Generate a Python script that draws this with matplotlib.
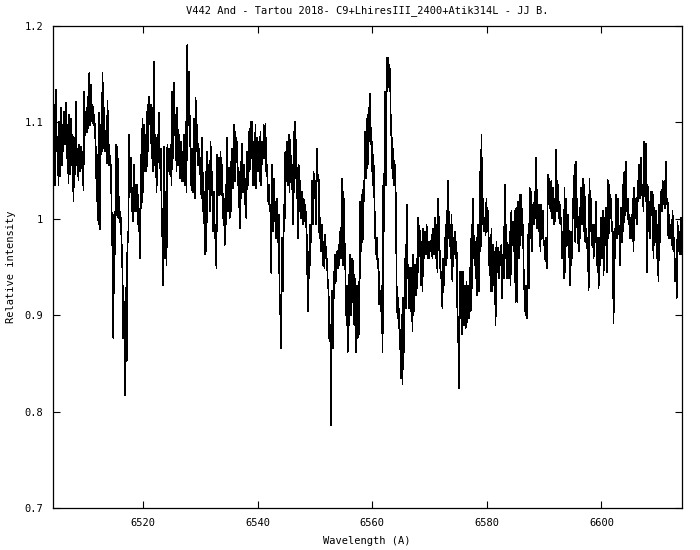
import numpy as np
import matplotlib
matplotlib.use("Agg")
import matplotlib.pyplot as plt

# wavelength calibration of the spectrum (linear dispersion)
lam_start = 6504.24
lam_end = 6614.0

# relative intensity in short stretches (max, min pairs)
flux_01 = [1.077, 1.025, 1.118, 1.035, 1.134, 1.070, 1.084, 1.035, 1.101, 1.044,
           1.115, 1.056, 1.097, 1.070, 1.111, 1.077, 1.120, 1.063, 1.097, 1.037,
           1.108, 1.046, 1.104, 1.056, 1.087, 1.018, 1.084, 1.046, 1.121, 1.056,
           1.073, 1.040, 1.077, 1.049, 1.075, 1.053, 1.070, 1.030, 1.132, 1.087,
           1.104, 1.090, 1.127, 1.094, 1.151, 1.097, 1.139, 1.101, 1.118, 1.097,
           1.108, 1.090, 1.068, 1.018, 1.066, 0.994, 1.110, 0.989, 1.097, 1.070,
           1.151, 1.073, 1.115, 1.070, 1.084, 1.058]
flux_02 = [1.122, 1.056, 1.077, 1.056, 1.056, 1.004, 0.963, 0.876, 1.004, 0.963,
           1.077, 1.004, 1.075, 1.001, 1.023, 0.997, 1.001, 0.973, 0.944, 0.876,
           0.914, 0.817, 0.928, 0.852, 0.987, 0.976, 1.087, 1.042, 1.063, 1.008,
           1.032, 0.997, 1.056, 1.008, 1.035, 1.008, 1.035, 0.994, 0.997, 0.959,
           1.066, 1.011, 1.104, 1.028, 1.097, 1.049, 1.087, 1.049, 1.118, 1.070,
           1.127, 1.108, 1.118, 1.063, 1.115, 1.049, 1.163, 1.056, 1.084, 1.028,
           1.087, 1.059, 1.110, 1.053, 1.073, 1.015, 0.980, 0.931, 1.075, 0.959]
flux_03 = [1.028, 0.952, 1.077, 1.049, 1.073, 1.046, 1.077, 1.035, 1.132, 1.063,
           1.141, 1.087, 1.108, 1.049, 1.115, 1.056, 1.087, 1.042, 1.080, 1.039,
           1.070, 1.039, 1.087, 1.035, 1.101, 1.028, 1.180, 1.097, 1.153, 1.097,
           1.063, 1.030, 1.073, 1.028, 1.104, 1.021, 1.125, 1.070, 1.097, 1.056,
           1.073, 1.046, 1.063, 1.021, 1.084, 1.008, 1.028, 0.963, 1.049, 0.966,
           1.070, 1.035, 1.056, 1.008, 1.080, 1.025, 1.049, 0.987, 1.028, 0.980,
           0.994, 0.949, 1.066, 1.025, 1.063, 1.025, 1.070, 1.025, 1.056, 1.001]
flux_04 = [1.021, 0.973, 1.035, 0.994, 1.084, 1.008, 1.053, 1.001, 1.059, 1.008,
           1.073, 1.032, 1.097, 1.039, 1.090, 1.059, 1.080, 1.035, 1.049, 0.990,
           1.059, 1.021, 1.078, 1.028, 1.056, 1.015, 1.042, 1.001, 1.070, 1.035,
           1.090, 1.049, 1.101, 1.063, 1.101, 1.035, 1.080, 1.035, 1.097, 1.032,
           1.084, 1.049, 1.080, 1.039, 1.090, 1.035, 1.080, 1.063, 1.097, 1.063,
           1.099, 1.049, 1.056, 1.018, 1.035, 1.008, 1.015, 0.944, 1.056, 0.987,
           1.042, 0.997, 1.018, 0.980, 1.021, 0.976, 1.004, 0.925, 0.900, 0.866]
flux_05 = [0.980, 0.925, 1.015, 0.987, 1.070, 1.039, 1.080, 1.035, 1.087, 1.028,
           1.082, 1.039, 1.056, 0.994, 1.090, 1.028, 1.101, 1.053, 1.053, 0.980,
           1.056, 1.008, 1.039, 1.001, 1.028, 0.994, 1.021, 0.997, 1.015, 0.997,
           0.976, 0.904, 0.966, 0.938, 0.994, 0.976, 1.039, 0.994, 1.049, 1.021,
           1.039, 0.994, 1.073, 1.039, 1.046, 0.980, 1.001, 0.966, 0.994, 0.952,
           0.976, 0.949, 0.983, 0.959, 0.959, 0.935, 0.925, 0.873, 0.890, 0.786,
           0.925, 0.866, 0.945, 0.918, 0.963, 0.935, 0.966, 0.949, 0.973, 0.952]
flux_06 = [0.987, 0.959, 1.042, 0.952, 1.028, 0.983, 0.959, 0.900, 0.931, 0.862,
           0.942, 0.890, 0.963, 0.900, 0.959, 0.914, 0.956, 0.890, 0.938, 0.862,
           0.931, 0.876, 0.935, 0.880, 1.018, 0.966, 1.025, 0.976, 1.039, 1.018,
           1.090, 1.042, 1.104, 1.053, 1.115, 1.080, 1.130, 1.077, 1.080, 1.035,
           1.066, 1.028, 0.987, 0.963, 0.980, 0.949, 0.959, 0.911, 0.925, 0.904,
           0.931, 0.862, 1.047, 0.987, 1.132, 1.035, 1.167, 1.132, 1.167, 1.146,
           1.156, 1.090, 1.084, 1.042, 1.073, 1.035, 1.056, 1.018, 0.925, 0.897]
flux_07 = [0.918, 0.887, 0.883, 0.835, 0.900, 0.828, 0.918, 0.862, 0.959, 0.907,
           1.015, 0.938, 0.952, 0.907, 0.949, 0.904, 0.949, 0.883, 0.963, 0.904,
           0.952, 0.921, 0.959, 0.928, 1.001, 0.983, 0.987, 0.931, 0.976, 0.925,
           0.990, 0.959, 0.987, 0.963, 0.994, 0.959, 0.976, 0.959, 0.976, 0.966,
           0.983, 0.959, 0.990, 0.963, 1.001, 0.959, 0.994, 0.945, 1.021, 0.983,
           0.959, 0.938, 0.945, 0.907, 0.959, 0.931, 0.980, 0.952, 1.008, 0.959,
           1.039, 0.980, 0.987, 0.959, 1.004, 0.935, 0.980, 0.963, 0.987, 0.959]
flux_08 = [0.976, 0.907, 0.883, 0.824, 0.945, 0.897, 0.945, 0.880, 0.945, 0.890,
           0.931, 0.887, 0.935, 0.893, 0.931, 0.897, 0.949, 0.904, 0.994, 0.928,
           1.021, 0.959, 0.976, 0.938, 0.980, 0.921, 0.994, 0.925, 1.049, 0.966,
           1.087, 0.994, 1.021, 0.987, 1.001, 0.983, 1.021, 0.987, 1.008, 0.952,
           0.980, 0.925, 0.990, 0.925, 0.973, 0.931, 0.966, 0.890, 0.976, 0.945,
           0.970, 0.938, 0.966, 0.952, 0.973, 0.918, 0.963, 0.938, 1.035, 0.959,
           0.994, 0.938, 0.973, 0.938, 0.987, 0.931, 1.008, 0.973, 0.997, 0.966]
flux_09 = [1.008, 0.914, 1.011, 0.914, 1.018, 0.959, 1.025, 0.973, 1.025, 0.987,
           0.994, 0.935, 0.921, 0.900, 0.931, 0.897, 0.983, 0.928, 1.032, 0.980,
           1.028, 0.966, 1.015, 0.994, 1.028, 1.001, 1.063, 0.990, 1.015, 0.987,
           1.015, 0.966, 1.015, 0.980, 1.008, 0.973, 0.973, 0.956, 0.980, 0.949,
           1.046, 1.021, 1.042, 1.008, 1.039, 1.001, 1.032, 0.994, 1.021, 0.997,
           1.072, 1.008, 1.035, 1.001, 1.018, 0.994, 1.001, 0.959, 0.987, 0.938,
           1.032, 0.945, 1.021, 0.973, 1.004, 0.987, 0.952, 0.931, 0.987, 0.959]
flux_10 = [1.021, 1.001, 1.056, 0.976, 1.059, 0.994, 0.987, 0.966, 1.011, 0.980,
           1.032, 0.994, 1.042, 0.987, 1.035, 0.976, 0.990, 0.970, 0.980, 0.926,
           1.042, 0.987, 1.021, 0.973, 0.994, 0.959, 0.994, 0.976, 1.018, 0.952,
           0.980, 0.928, 0.980, 0.952, 1.001, 0.959, 1.008, 0.942, 1.001, 0.973,
           1.011, 0.945, 1.040, 0.980, 1.035, 1.001, 1.021, 0.987, 0.987, 0.892,
           0.990, 0.959, 1.025, 0.980, 1.021, 0.994, 0.983, 0.952, 1.011, 0.976,
           1.035, 0.987, 1.049, 1.004, 1.059, 1.008, 1.021, 0.994, 1.004, 0.980]
flux_11 = [1.001, 0.980, 1.021, 0.966, 1.032, 1.001, 1.021, 0.994, 1.039, 1.018,
           1.056, 1.021, 1.063, 1.025, 1.035, 1.008, 1.080, 1.028, 1.078, 0.945,
           1.035, 0.987, 1.018, 0.980, 1.028, 1.004, 1.028, 0.959, 1.011, 0.976,
           1.008, 0.959, 0.994, 0.935, 1.015, 0.976, 1.028, 1.008, 1.039, 1.015,
           1.039, 1.011, 1.059, 1.015, 1.021, 0.980, 1.004, 0.980, 0.994, 0.973,
           1.008, 0.966, 0.980, 0.935, 0.959, 0.918, 0.997, 0.966, 0.987, 0.963,
           1.001, 0.963]

flux = np.array(flux_01 + flux_02 + flux_03 + flux_04 + flux_05 + flux_06
                + flux_07 + flux_08 + flux_09 + flux_10 + flux_11)
wavelength = np.linspace(lam_start, lam_end, len(flux))

title = "V442 And - Tartou 2018- C9+LhiresIII_2400+Atik314L - JJ B."
xticks = [6520, 6540, 6560, 6580, 6600]
yticks = [0.7, 0.8, 0.9, 1.0, 1.1, 1.2]
ytick_labels = ["0.7", "0.8", "0.9", "1", "1.1", "1.2"]

plt.rcParams['font.family'] = ['DejaVu Sans Mono']
plt.rcParams['font.size'] = 7.5

fig = plt.figure(figsize=(7, 5.5), dpi=100)
ax = fig.add_axes([52.7 / 700, 1 - 508 / 550, (681.7 - 52.7) / 700, (508 - 26) / 550])
ax.plot(wavelength, flux, color='black', lw=0.5, antialiased=False)

ax.set_xlim(lam_start, lam_end)
ax.set_ylim(0.7, 1.2)
ax.set_xticks(xticks)
ax.set_yticks(yticks)
ax.set_yticklabels(ytick_labels)
ax.tick_params(direction='in', length=5, width=0.8, top=True, right=True, pad=7)
for s in ax.spines.values():
    s.set_linewidth(0.9)

ax.set_title(title, fontsize=7.5, pad=9)
ax.set_xlabel("Wavelength (A)", labelpad=6)
ax.set_ylabel("Relative intensity", labelpad=6)

fig.savefig("out.png", dpi=100)
